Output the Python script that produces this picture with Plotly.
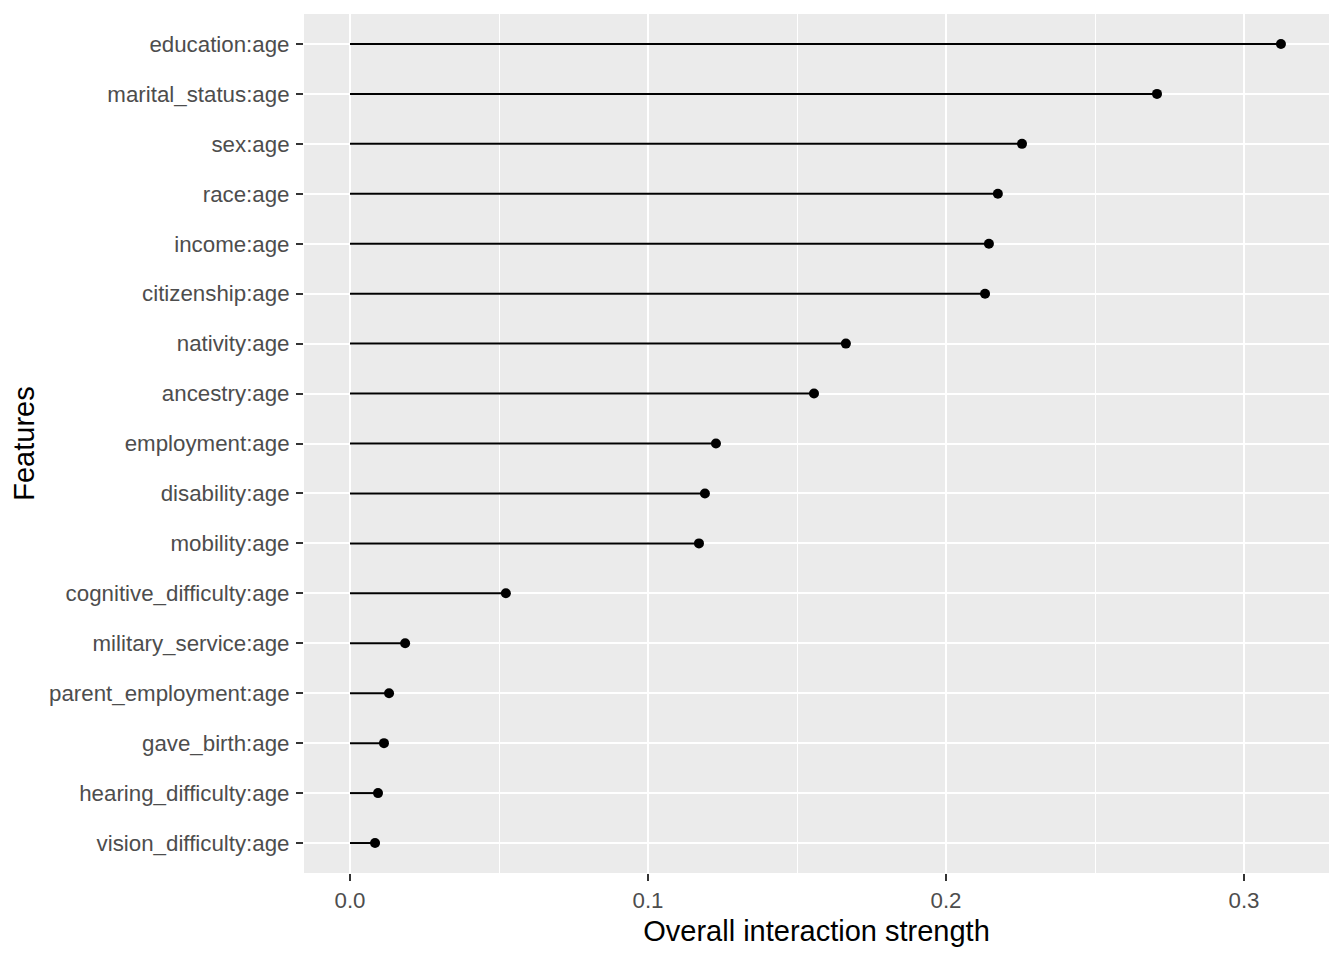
import plotly.graph_objects as go

features = [
    "education:age", "marital_status:age", "sex:age", "race:age", "income:age",
    "citizenship:age", "nativity:age", "ancestry:age", "employment:age",
    "disability:age", "mobility:age", "cognitive_difficulty:age",
    "military_service:age", "parent_employment:age", "gave_birth:age",
    "hearing_difficulty:age", "vision_difficulty:age",
]
strength = [
    0.3124, 0.2708, 0.2255, 0.2174, 0.2144, 0.2131, 0.1664, 0.1557, 0.1228,
    0.1191, 0.1171, 0.0523, 0.0185, 0.0131, 0.0114, 0.0094, 0.0084,
]
x_ticks = [0.0, 0.1, 0.2, 0.3]

seg_x, seg_y = [], []
for f, v in zip(features, strength):
    seg_x += [0, v, None]
    seg_y += [f, f, None]

fig = go.Figure()
fig.add_trace(go.Scatter(x=seg_x, y=seg_y, mode="lines",
                         line=dict(color="black", width=2),
                         hoverinfo="skip", showlegend=False))
fig.add_trace(go.Scatter(x=strength, y=features, mode="markers",
                         marker=dict(color="black", size=10, line=dict(width=0)),
                         showlegend=False))

tick_font = dict(family="Liberation Sans, Arial, sans-serif", size=22.3, color="#4D4D4D")
title_font = dict(family="Liberation Sans, Arial, sans-serif", size=29, color="black")

fig.update_layout(
    width=1336, height=952,
    margin=dict(l=296, r=15, t=6, b=87),
    paper_bgcolor="white", plot_bgcolor="#EBEBEB",
    showlegend=False,
)
fig.update_xaxes(
    range=[-0.01544, 0.32852],
    tickvals=x_ticks, ticktext=[f"{t:.1f}" for t in x_ticks],
    showgrid=True, gridcolor="white", gridwidth=2.2,
    minor=dict(tickvals=[0.05, 0.15, 0.25], showgrid=True, gridcolor="white", gridwidth=1.1, ticks=""),
    zeroline=False, showline=False,
    ticks="outside", ticklen=7, tickwidth=2, tickcolor="#333333",
    tickfont=tick_font,
    title=dict(text="Overall interaction strength", font=title_font, standoff=8),
)
fig.update_yaxes(
    type="category", categoryorder="array", categoryarray=features,
    range=[16.6, -0.6],
    showgrid=True, gridcolor="white", gridwidth=2.2,
    zeroline=False, showline=False,
    ticks="outside", ticklen=7, tickwidth=2, tickcolor="#333333",
    tickfont=tick_font, ticklabelstandoff=2,
    title=dict(text="Features", font=title_font, standoff=6),
)

fig.write_html("out.html")
